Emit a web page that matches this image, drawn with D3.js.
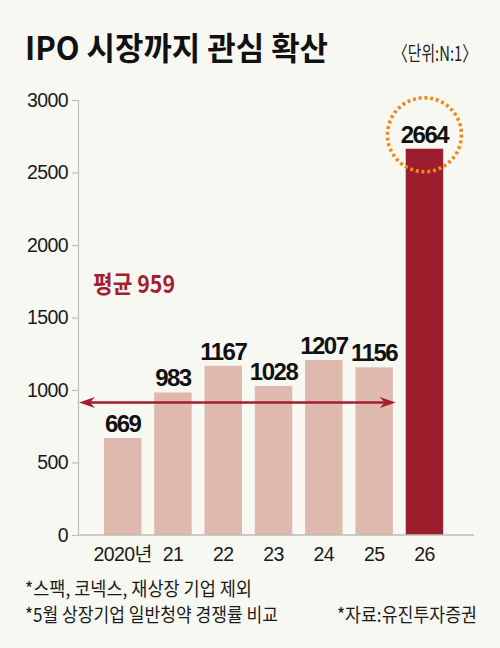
<!DOCTYPE html>
<html>
<head>
<meta charset="utf-8">
<script src="https://cdn.jsdelivr.net/npm/d3@7"></script>
<style>
  html, body { margin: 0; padding: 0; background: #F8F8F3; }
  svg { display: block; }
</style>
</head>
<body>
<svg id="chart" width="500" height="648"></svg>
<script>
// ---- data ----
const categories = ["2020년", "21", "22", "23", "24", "25", "26"];
const values = [669, 983, 1167, 1028, 1207, 1156, 2664];
const yTicks = [0, 500, 1000, 1500, 2000, 2500, 3000];
const averageValue = 959;
const averageLineLevel = 914; // arrow drawn level
const titleText = "IPO 시장까지 관심 확산";
const unitText = "〈단위:N:1〉";
const notes = ["*스팩, 코넥스, 재상장 기업 제외", "*5월 상장기업 일반청약 경쟁률 비교"];
const sourceText = "*자료:유진투자증권";

// ---- setup ----
const svg = d3.select("#chart");
const W = 500, H = 648;
svg.append("rect").attr("width", W).attr("height", H).attr("fill", "#F8F8F3");

const KR = "'Noto Sans CJK KR', 'Noto Sans', sans-serif";
const NUM = "'Liberation Sans', Arial, 'Noto Sans CJK KR', sans-serif";

const y = d3.scaleLinear().domain([0, 3000]).range([535, 100]);
const x = d3.scaleBand().domain(categories).range([97.5, 449.6])
  .paddingInner(0.255).paddingOuter(0.1275);

const lightBar = "#DFB9AE", darkBar = "#9C1D2B", accent = "#A31F30";

// title
svg.append("text").attr("x", 25).attr("y", 60)
  .attr("font-family", KR).attr("font-weight", 700).attr("font-size", 32)
  .attr("fill", "#111")
  .attr("textLength", 303).attr("lengthAdjust", "spacingAndGlyphs")
  .text(titleText);

// unit label, horizontally condensed so it ends at x=477
const unit = svg.append("text").attr("x", 0).attr("y", 0).attr("text-anchor", "end")
  .attr("font-family", KR).attr("font-size", 20).attr("fill", "#222")
  .text(unitText);
const uw = unit.node().getComputedTextLength();
const us = Math.min(1, 84 / uw);
unit.attr("transform", `translate(477,61) scale(${us},1)`);

// y axis
const yAxis = d3.axisLeft(y).tickValues(yTicks).tickSize(6).tickPadding(4)
  .tickFormat(d3.format("d"));
const gy = svg.append("g").attr("transform", "translate(78,0)").call(yAxis);
gy.select(".domain").attr("stroke", "#BDBDBD").attr("stroke-width", 1.2);
gy.selectAll(".tick line").attr("stroke", "#BDBDBD").attr("stroke-width", 1.2);
gy.selectAll(".tick text").attr("font-family", NUM).attr("font-size", 19.5)
  .attr("fill", "#1a1a1a").attr("letter-spacing", -0.6);

// bars
svg.append("g").selectAll("rect").data(values).join("rect")
  .attr("x", (d, i) => x(categories[i]))
  .attr("y", d => y(d))
  .attr("width", x.bandwidth())
  .attr("height", d => y(0) - y(d))
  .attr("fill", (d, i) => i === values.length - 1 ? darkBar : lightBar);

// x axis baseline
svg.append("line").attr("x1", 78).attr("x2", 474).attr("y1", y(0)).attr("y2", y(0))
  .attr("stroke", "#BDBDBD").attr("stroke-width", 1.5);

// x labels
const xAxis = d3.axisBottom(x).tickSize(0).tickPadding(12);
const gx = svg.append("g").attr("transform", `translate(0,${y(0)})`).call(xAxis);
gx.select(".domain").remove();
gx.selectAll(".tick text").attr("font-family", NUM).attr("font-size", 19.5)
  .attr("fill", "#1a1a1a").attr("letter-spacing", -0.6);

// value labels
svg.append("g").selectAll("text").data(values).join("text")
  .attr("x", (d, i) => x(categories[i]) + x.bandwidth() / 2)
  .attr("y", d => y(d) - 6)
  .attr("text-anchor", "middle")
  .attr("font-family", NUM).attr("font-weight", 700).attr("font-size", 24)
  .attr("letter-spacing", -1.5)
  .attr("fill", "#111")
  .text(d => d);

// highlight circle around last label
const last = categories.length - 1;
svg.append("circle")
  .attr("cx", x(categories[last]) + x.bandwidth() / 2)
  .attr("cy", y(values[last]) - 14)
  .attr("r", 37)
  .attr("fill", "none")
  .attr("stroke", "#F18A1E").attr("stroke-width", 3.6)
  .attr("stroke-dasharray", "3 2.8");

// average arrow
const ay = y(averageLineLevel);
const ax1 = 79, ax2 = x(categories[last]) - 10;
svg.append("line").attr("x1", ax1 + 8).attr("x2", ax2 - 8).attr("y1", ay).attr("y2", ay)
  .attr("stroke", accent).attr("stroke-width", 2.6);
const head = (tip, dir) => `M${tip},${ay} L${tip + dir * 16},${ay - 5.5} L${tip + dir * 11},${ay} L${tip + dir * 16},${ay + 5.5} Z`;
svg.append("path").attr("d", head(ax1, 1)).attr("fill", accent);
svg.append("path").attr("d", head(ax2, -1)).attr("fill", accent);

// average label
svg.append("text").attr("x", 93).attr("y", 293)
  .attr("font-family", KR).attr("font-weight", 700).attr("font-size", 24)
  .attr("fill", accent)
  .attr("textLength", 82).attr("lengthAdjust", "spacingAndGlyphs")
  .text(`평균 ${averageValue}`);

// notes
const noteLens = [227, 253];
svg.append("g").selectAll("text").data(notes).join("text")
  .attr("x", 25).attr("y", (d, i) => 596 + i * 26)
  .attr("font-family", KR).attr("font-size", 19).attr("fill", "#1a1a1a")
  .attr("textLength", (d, i) => noteLens[i]).attr("lengthAdjust", "spacingAndGlyphs")
  .text(d => d);

svg.append("text").attr("x", 337).attr("y", 622)
  .attr("font-family", KR).attr("font-size", 19).attr("fill", "#1a1a1a")
  .attr("textLength", 140).attr("lengthAdjust", "spacingAndGlyphs")
  .text(sourceText);
</script>
</body>
</html>
